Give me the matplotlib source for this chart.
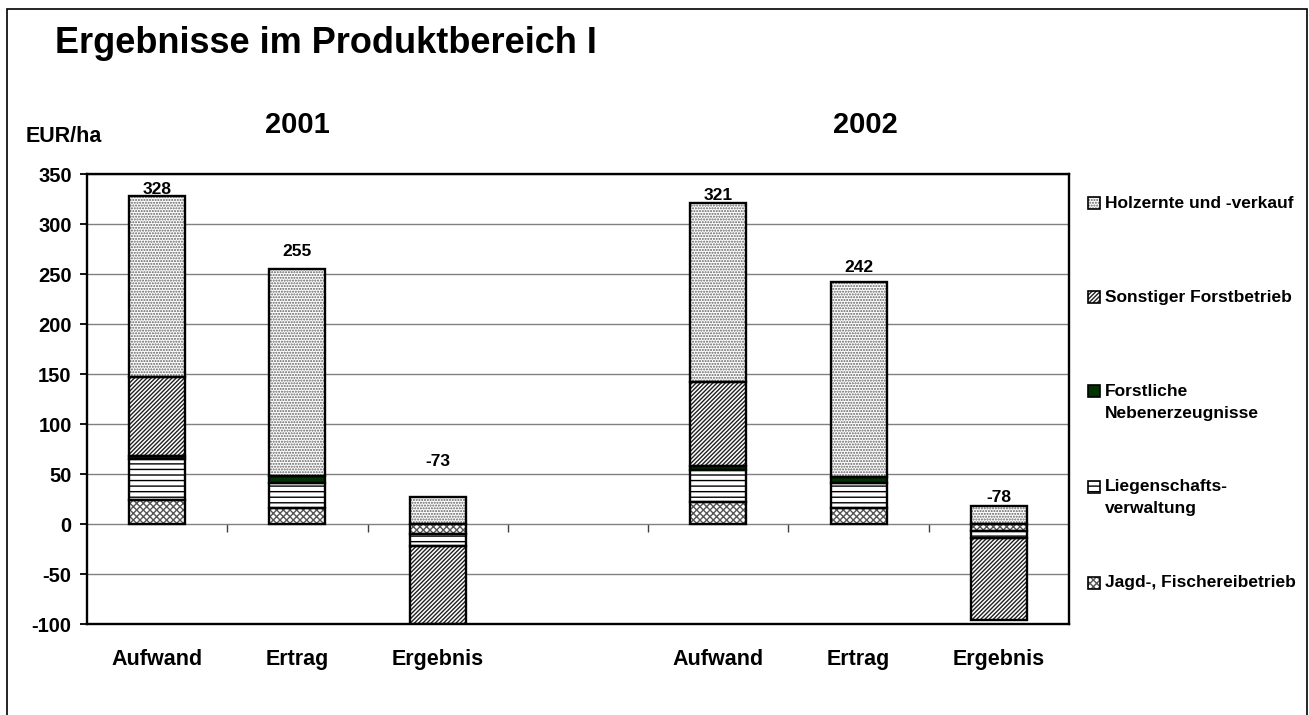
import numpy as np
import matplotlib
matplotlib.use('Agg')
import matplotlib.pyplot as plt
from matplotlib.patches import Rectangle
from matplotlib import transforms

# Kategorien (leere Position trennt 2001 und 2002)
categories = ['Aufwand', 'Ertrag', 'Ergebnis', '', 'Aufwand', 'Ertrag', 'Ergebnis']
years = ['2001', '2002']
year_pos = [1, 5.05]

# EUR/ha je Produkt, von unten nach oben gestapelt
jagd = [24, 16, -10, 0, 22, 16, -7]
liegenschaft = [41, 25, -12, 0, 32, 25, -7]
nebenerzeugnisse = [3, 7, 0, 0, 4, 6, 0]
sonstiger = [79, 0, -78, 0, 84, 0, -82]
holz = [181, 207, 27, 0, 179, 195, 18]

totals = ['328', '255', '-73', '', '321', '242', '-78']
label_y = [334, 272, 62, 0, 328, 257, 26]

yticks = list(range(-100, 351, 50))

plt.rcParams['font.family'] = ['Liberation Sans', 'DejaVu Sans']
plt.rcParams['font.weight'] = 'bold'
plt.rcParams['hatch.linewidth'] = 1.0

W, H = 1309, 715
fig = plt.figure(figsize=(W / 100, H / 100), dpi=100)
ax = fig.add_axes([87 / W, 91 / H, 982 / W, 450 / H])

# name, werte, fuellung, schraffurfarbe, schraffur
series = [
    ('Jagd-, Fischereibetrieb', jagd, 'white', '#555555', 'xxxxx'),
    ('Liegenschafts-\nverwaltung', liegenschaft, 'white', 'black', '---'),
    ('Forstliche\nNebenerzeugnisse', nebenerzeugnisse, '#003300', '#003300', None),
    ('Sonstiger Forstbetrieb', sonstiger, 'white', '#202020', '////////'),
    ('Holzernte und -verkauf', holz, 'white', '#606060', '......'),
]

x = np.arange(len(categories))
width = 0.4
pos_base = np.zeros(len(categories))
neg_base = np.zeros(len(categories))
for name, vals, fc, hc, hatch in series:
    v = np.array(vals, dtype=float)
    bottom = np.where(v >= 0, pos_base, neg_base)
    m = v != 0
    ax.bar(x[m], v[m], width, bottom=bottom[m], color=fc, edgecolor=hc,
           hatch=hatch, linewidth=0, zorder=2)
    ax.bar(x[m], v[m], width, bottom=bottom[m], fill=False,
           edgecolor='black', linewidth=1.7, zorder=3)
    pos_base += np.where(v > 0, v, 0)
    neg_base += np.where(v < 0, v, 0)

# Summen ueber den Saeulen
for i, t in enumerate(totals):
    if t:
        ax.text(x[i], label_y[i], t, ha='center', va='center', fontsize=12.5,
                fontweight='bold', zorder=4)

ax.set_xlim(-0.5, len(categories) - 0.5)
ax.set_ylim(-100, 350)
ax.set_yticks(yticks)
ax.set_yticklabels([str(t) for t in yticks], fontsize=14.5, fontweight='bold')
ax.set_xticks(x)
ax.set_xticklabels(categories, fontsize=15.5, fontweight='bold')
ax.tick_params(axis='x', length=0, pad=18)
ax.tick_params(axis='y', direction='out', length=5, width=1.3, pad=6)
ax.grid(axis='y', color='#808080', linewidth=1.0)
ax.set_axisbelow(True)
for s in ax.spines.values():
    s.set_linewidth(1.7)
    s.set_color('black')

# Teilstriche zwischen den Kategorien auf der Nulllinie
sec = ax.secondary_xaxis(100 / 450)
sec.set_xticks(x[:-1] + 0.5)
sec.tick_params(direction='out', length=6, width=1.0, colors='#404040', labelbottom=False)
sec.set_xticklabels([])
for s in sec.spines.values():
    s.set_visible(False)

# Jahreszahlen
trans = transforms.blended_transform_factory(ax.transData, fig.transFigure)
for xp, yr in zip(year_pos, years):
    ax.text(xp, 1 - 125 / H, yr, transform=trans, ha='center', va='center',
            fontsize=21, fontweight='bold')

fig.text(55 / W, 1 - 53 / H, 'Ergebnisse im Produktbereich I', fontsize=26,
         fontweight='bold', va='baseline')
fig.text(26 / W, 1 - 142 / H, 'EUR/ha', fontsize=15.5, fontweight='bold', va='baseline')

# Legende (oben nach unten)
legend_y = [203, 297, 391, 487, 583]
for (name, vals, fc, hc, hatch), ly in zip(series[::-1], legend_y):
    fig.add_artist(Rectangle((1088 / W, 1 - (ly + 6) / H), 12 / W, 12 / H,
                             facecolor=fc, edgecolor=hc, hatch=hatch, linewidth=0,
                             transform=fig.transFigure))
    fig.add_artist(Rectangle((1088 / W, 1 - (ly + 6) / H), 12 / W, 12 / H,
                             fill=False, edgecolor='black', linewidth=1.2,
                             transform=fig.transFigure))
    for k, line in enumerate(name.split('\n')):
        fig.text(1105 / W, 1 - (ly + 22 * k) / H, line, fontsize=12.5,
                 fontweight='bold', va='center')

# Rahmen um die Grafik
fig.add_artist(Rectangle((7 / W, -0.05), 1300 / W, 1 - 9 / H + 0.05, fill=False,
                         edgecolor='black', linewidth=1.2, transform=fig.transFigure))

fig.savefig('out.png', dpi=100, facecolor='white')
